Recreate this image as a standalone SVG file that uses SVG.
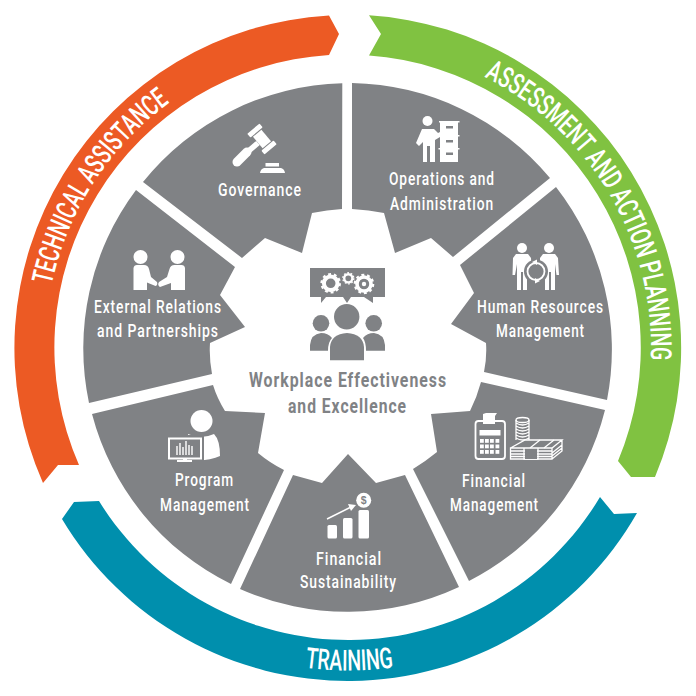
<svg xmlns="http://www.w3.org/2000/svg" xmlns:xlink="http://www.w3.org/1999/xlink" width="696" height="696" viewBox="0 0 696 696">
<style>
.seg{fill:#808285}
.w{fill:#fff}
.g{fill:#808285}
.l{font-family:"Roboto","Liberation Sans",sans-serif;font-size:18px;font-weight:500;fill:#fff;letter-spacing:1.2px}
.c{fill:#808285;font-size:19.5px;font-weight:700}
.r{font-family:"Roboto","Liberation Sans",sans-serif;font-size:29px;font-weight:500;fill:#fff}
.ol{fill:none;stroke:#fff;stroke-width:1.3}
</style>
<defs>
<path id="pT" d="M51.6 284.8A303 303 0 0 1 244.4 62.8"/>
<path id="pA" d="M484.2 76.9A303 303 0 0 1 632.7 451.1"/>
<path id="pR" d="M305 667.7A323 323 0 0 0 431.6 659.5"/>
<g id="gearS"><circle r="6.8" fill="none" stroke="#fff" stroke-width="4"/><circle r="9.2" fill="none" stroke="#fff" stroke-width="2.2" stroke-dasharray="2.9 2.88"/></g>
</defs>
<rect width="696" height="696" fill="#fff"/>
<g id="rings">
<path id="technical-assistance-band" fill="#EC5A24" d="M79 465L58 465L43 483A333 333 0 0 1 329 15.5L339 34L329 55A293 293 0 0 0 79 465Z"/>
<path id="assessment-band" fill="#80C241" d="M369 15.3A333 333 0 0 1 655 477L631 477L618 461A293 293 0 0 0 369 55.5L381 34Z"/>
<path id="training-band" fill="#008FAD" d="M62 519A333 333 0 0 0 637 513L614 514L600 497A293 293 0 0 1 99 501L74 502Z"/>
<text class="r"><textPath xlink:href="#pT" href="#pT" textLength="222" lengthAdjust="spacingAndGlyphs">TECHNICAL ASSISTANCE</textPath></text>
<text class="r"><textPath xlink:href="#pA" href="#pA" textLength="347" lengthAdjust="spacingAndGlyphs">ASSESSMENT AND ACTION PLANNING</textPath></text>
<text class="r"><textPath xlink:href="#pR" href="#pR" textLength="89" lengthAdjust="spacingAndGlyphs">TRAINING</textPath></text>
</g>
<g id="governance">
<path class="seg" d="M342.3 83.3A264 264 0 0 0 143 182L242 258L265 238L302 253L312 213Q327 210 342 209Z"/>
<g transform="translate(262 139) rotate(50)" class="w"><rect x="-13.5" y="-8" width="5" height="16" rx="1"/><rect x="-7.5" y="-5.5" width="15" height="11"/><rect x="8.5" y="-8" width="5" height="16" rx="1"/></g>
<path d="M237 162L247 152" stroke="#fff" stroke-width="9" stroke-linecap="round"/><path d="M245 154L258 143" stroke="#fff" stroke-width="5.5"/>
<path class="w" d="M265.5 163H279V166.5H265.5ZM264 168H281Q284.500 169 285 173H260Q260.500 169 264 168Z"/>
<text class="l" x="218" y="196" textLength="84" lengthAdjust="spacingAndGlyphs">Governance</text>
</g>
<g id="operations">
<path class="seg" d="M352 83A264 264 0 0 1 550 178L453 257L431 238L395 253L384 213Q369 210 352 209Z"/>
<circle class="w" cx="427.500" cy="121" r="5"/>
<path class="w" d="M422 129L434 129L438 133L444 130L445 134L435 140V162H430V146H427V162H423V142L419 146L416 143Z"/>
<path class="w" d="M439 121H459.500V122.500H458V135H459.500V136.500H458V148H459.500V149.500H458V162H440V149.500H438.500V148H440V136.500H438.500V135H440V122.500H439Z"/>
<path class="g" d="M446 126H453V128.500H446ZM446 140H453V142.500H446ZM446 152.500H453V155H446Z"/>
<text class="l" x="389" y="185" textLength="106" lengthAdjust="spacingAndGlyphs">Operations and</text>
<text class="l" x="390" y="210" textLength="104" lengthAdjust="spacingAndGlyphs">Administration</text>
</g>
<g id="human-resources">
<path class="seg" d="M556 187A264 264 0 0 1 607 400L484 372Q487 358 486 343L451 324L474 293L460 265Z"/>
<circle class="w" cx="522" cy="248" r="5"/><circle class="w" cx="549" cy="248" r="5"/>
<path class="w" d="M516 254H528L531 258L532 275H529L527 264V290H523V272H521V290H517V264L515 275H512.500L513 258Z"/>
<path class="w" d="M543 254H555L558 258L559 275H556.500L555 264V290H551V272H549V290H545V264L543 275H540L540 258Z"/>
<circle class="g" cx="536" cy="271.500" r="12"/>
<circle cx="536" cy="271.500" r="8.500" fill="none" stroke="#fff" stroke-width="1.800"/>
<path class="w" d="M532 262L537 259.500V265ZM540 281L535 283.500V278Z"/>
<text class="l" x="477" y="313" textLength="127" lengthAdjust="spacingAndGlyphs">Human Resources</text>
<text class="l" x="496" y="337" textLength="89" lengthAdjust="spacingAndGlyphs">Management</text>
</g>
<g id="financial-management">
<path class="seg" d="M469 581A264 264 0 0 0 605 410L481 382Q477 397 470 411L431 414L437 452Q426 461 413 469Z"/>
<rect x="475.500" y="421" width="29.500" height="38" rx="3" class="ol" style="stroke-width:1.800"/>
<path class="w" d="M483 424V414L486 413H497L495 416V424Z"/>
<rect class="w" x="479.500" y="430" width="21" height="5.500"/>
<g class="w"><rect x="480" y="439" width="3.800" height="3.800"/><rect x="485" y="439" width="3.800" height="3.800"/><rect x="490" y="439" width="3.800" height="3.800"/><rect x="495.500" y="439" width="3.800" height="3.800"/><rect x="480" y="444.500" width="3.800" height="3.800"/><rect x="485" y="444.500" width="3.800" height="3.800"/><rect x="490" y="444.500" width="3.800" height="3.800"/><rect x="495.500" y="444.500" width="3.800" height="3.800"/><rect x="480" y="450" width="3.800" height="3.800"/><rect x="485" y="450" width="3.800" height="3.800"/><rect x="490" y="450" width="3.800" height="3.800"/><rect x="495.500" y="450" width="3.800" height="3.800"/></g>
<g class="ol"><ellipse cx="522.500" cy="420" rx="6.500" ry="2.500"/><path d="M516 420V440M529 420V440M516 423Q522.500 427 529 423M516 426Q522.500 430 529 426M516 429Q522.500 433 529 429M516 432Q522.500 436 529 432M516 435Q522.500 439 529 435M516 438Q522.500 442 529 438"/>
<path d="M510.500 448L525 440H562L552 448H510.500V459H552V448M552 459L562 451V440M510.500 451H552M510.500 454H552M510.500 456.500H552M552 453L562 445M552 456L562 448"/>
<path d="M524 448V459H538V448M530 448L540 440M544 448L554 440"/></g>
<rect class="g" x="525" y="449" width="12" height="10"/>
<text class="l" x="462" y="487" textLength="64" lengthAdjust="spacingAndGlyphs">Financial</text>
<text class="l" x="450" y="511" textLength="89" lengthAdjust="spacingAndGlyphs">Management</text>
</g>
<g id="financial-sustainability">
<path class="seg" d="M459 587A264 264 0 0 1 240 589L293 475L322 483L348 454L376 483L405 475Z"/>
<rect class="w" x="327.500" y="525" width="9.500" height="13.500" rx="1.500"/><rect class="w" x="343" y="518" width="9.500" height="20.500" rx="1.500"/><rect class="w" x="358.500" y="510" width="10.500" height="28.500" rx="1.500"/>
<path d="M327 519L350 507.500" stroke="#fff" stroke-width="1.500" fill="none"/><path class="w" d="M348 504L356 505L351 511Z"/>
<circle class="w" cx="363.700" cy="500.300" r="7.500"/>
<text x="363.700" y="504" text-anchor="middle" font-family="Liberation Sans,sans-serif" font-size="10.500" font-weight="700" fill="#808285">$</text>
<text class="l" x="316" y="565" textLength="66" lengthAdjust="spacingAndGlyphs">Financial</text>
<text class="l" x="300" y="588" textLength="97" lengthAdjust="spacingAndGlyphs">Sustainability</text>
</g>
<g id="program-management">
<path class="seg" d="M92 414A264 264 0 0 0 231 584L284 470Q270 463 258 453L265 413L225 411Q217 398 213 385Z"/>
<circle class="w" cx="201.500" cy="421" r="11"/>
<path class="w" d="M188 434Q201 440 214 434Q220 440 220 456Q212 460 195 461L188 461Z"/>
<rect class="g" x="166" y="435" width="38" height="28"/>
<rect x="169" y="438.500" width="32" height="20" fill="none" stroke="#fff" stroke-width="2"/>
<path class="w" d="M183 458H187V460H192V462H177V460H183Z"/>
<path d="M177 455V446M180 455V443M183 455V447M186 455V441M189 455V445M192 455V446" stroke="#fff" stroke-width="1.400" fill="none"/>
<text class="l" x="175" y="486" textLength="59" lengthAdjust="spacingAndGlyphs">Program</text>
<text class="l" x="160" y="511" textLength="90" lengthAdjust="spacingAndGlyphs">Management</text>
</g>
<g id="external-relations">
<path class="seg" d="M136 190A264 264 0 0 0 89 403L212 374Q209 358 210 343L245 327L220 295L235 267Z"/>
<circle class="w" cx="140.500" cy="257" r="7"/><circle class="w" cx="177.500" cy="257" r="7"/>
<path class="w" d="M133.500 268Q134 265 137 265H144Q148 265 149 269L151 277L157 282Q158 285 155.500 286L147 282.500V290H133.500Z"/>
<path class="w" d="M185 268Q184.500 265 181.500 265H174.500Q170.500 265 169.500 269L167 277L159 282Q157 285 160 287L171 283V290H185Z"/>
<text class="l" x="94" y="313" textLength="128" lengthAdjust="spacingAndGlyphs">External Relations</text>
<text class="l" x="97" y="337" textLength="122" lengthAdjust="spacingAndGlyphs">and Partnerships</text>
</g>
<g id="center">
<path class="g" d="M310 268H385V297H373V303L364 297H351L347 303L343 297H326L321 303V297H310Z"/>
<use href="#gearS" x="330.700" y="283.300"/>
<use href="#gearS" transform="translate(348.300 278.300) scale(.6)"/>
<use href="#gearS" x="364" y="284"/><circle class="g" cx="364" cy="284" r="5.200"/><circle class="w" cx="364" cy="284" r="2.200"/><circle class="g" cx="330.700" cy="283.300" r="2.800"/>
<circle class="g" cx="346.700" cy="316.700" r="12.700"/><circle class="g" cx="321" cy="323.300" r="8.300"/><circle class="g" cx="373.700" cy="323.300" r="8.300"/>
<path class="g" d="M330 360.300V347Q331 334 347 333Q363 334 364 347V360.300Z"/>
<path class="g" d="M310 350.700V345Q311 334 321 333Q328 333 332 338Q328 342 328 350.700Z"/>
<path class="g" d="M385 350.700V345Q384 334 374 333Q367 333 363 338Q366 342 366 350.700Z"/>
<text class="l c" x="249" y="387" textLength="198" lengthAdjust="spacingAndGlyphs">Workplace Effectiveness</text>
<text class="l c" x="288" y="413" textLength="119" lengthAdjust="spacingAndGlyphs">and Excellence</text>
</g>
</svg>
